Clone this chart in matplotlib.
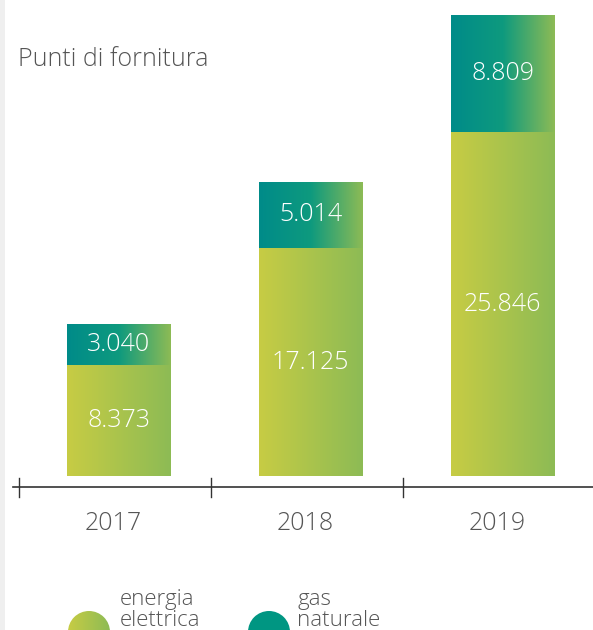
import numpy as np
import matplotlib
matplotlib.use('Agg')
import matplotlib.pyplot as plt
from matplotlib.colors import LinearSegmentedColormap
from matplotlib.patches import FancyBboxPatch, Circle

# dati
anni = ['2017', '2018', '2019']
energia_elettrica = [8373, 17125, 25846]
gas_naturale = [3040, 5014, 8809]
etichette_energia = ['8.373', '17.125', '25.846']
etichette_gas = ['3.040', '5.014', '8.809']

plt.rcParams['font.family'] = ['Open Sans', 'DejaVu Sans']
peso = 'light'

cmap_energia = LinearSegmentedColormap.from_list('energia', ['#c7cc44', '#8dbb55'])
cmap_gas = LinearSegmentedColormap.from_list(
    'gas', [(0, '#008b89'), (0.5, '#0e9a7e'), (1, '#8dbb55')])
gradiente = np.linspace(0, 1, 256).reshape(1, -1)

W, H = 593, 630
fig = plt.figure(figsize=(W / 100, H / 100), dpi=100)

# sfondo della scheda (coordinate in pixel)
bg = fig.add_axes([0, 0, 1, 1])
bg.set_xlim(0, W)
bg.set_ylim(H, 0)
bg.axis('off')
bg.add_patch(FancyBboxPatch((0, 0), W, H, boxstyle='square,pad=0',
                            facecolor='#efefef', edgecolor='none'))
bg.add_patch(FancyBboxPatch((5, -30), W + 60, H + 68,
                            boxstyle='round,pad=0,rounding_size=30',
                            facecolor='white', edgecolor='none'))

grigio = '#555555'
bg.text(18, 59, 'Punti di fornitura', fontsize=18, color=grigio,
        va='center', ha='left', fontweight=peso)

# legenda
def cerchio(cx, cy, r, cmap=None, colore=None):
    c = Circle((cx, cy), r, facecolor=colore if colore else 'none', edgecolor='none')
    bg.add_patch(c)
    if cmap is not None:
        im = bg.imshow(gradiente, cmap=cmap, aspect='auto',
                       extent=(cx - r, cx + r, cy + r, cy - r), zorder=2)
        im.set_clip_path(c)

cerchio(89, 632, 21, cmap=cmap_energia)
cerchio(269, 632, 21, colore='#009682')
for tx, ty, s in [(120, 599, 'energia'), (120, 621, 'elettrica'),
                  (297, 599, 'gas'), (297, 621, 'naturale')]:
    bg.text(tx, ty, s, fontsize=16, color=grigio, va='center', fontweight=peso)

# grafico
k = 0.0133          # pixel per unità
base_px = H - 476   # pixel dal basso per y=0
passo = 192.0       # pixel tra le barre
x0 = 118.5          # pixel centro prima barra

ax = fig.add_axes([0, 0, 1, 1], facecolor='none')
ax.axis('off')

x = np.arange(len(anni))
larghezza = 0.54

barre_e = ax.bar(x, energia_elettrica, width=larghezza, color='none', edgecolor='none')
barre_g = ax.bar(x, gas_naturale, bottom=energia_elettrica, width=larghezza,
                 color='none', edgecolor='none')

for barre, cmap in [(barre_e, cmap_energia), (barre_g, cmap_gas)]:
    for b in barre:
        bx, by, bw, bh = b.get_x(), b.get_y(), b.get_width(), b.get_height()
        im = ax.imshow(gradiente, cmap=cmap, aspect='auto',
                       extent=(bx, bx + bw, by, by + bh), zorder=2)
        im.set_clip_path(b)

for i in range(len(anni)):
    ax.text(x[i], energia_elettrica[i] / 2, etichette_energia[i], color='white',
            fontsize=18, ha='center', va='center', zorder=3, fontweight=peso)
    ax.text(x[i], energia_elettrica[i] + gas_naturale[i] / 2, etichette_gas[i],
            color='white', fontsize=18, ha='center', va='center', zorder=3,
            fontweight=peso)
    ax.text(x[i] - 0.03, -47 / k, anni[i], color=grigio, fontsize=18,
            ha='center', va='center', fontweight=peso)

# asse orizzontale con tacche
y_asse = -10.5 / k
ax.plot([x[0] - 0.55, (W - x0) / passo], [y_asse, y_asse], color='#333333', lw=1.2)
for t in x - 0.52:
    ax.plot([t, t], [-2 / k, -21 / k], color='#333333', lw=1.0)
ax.set_xlim(-x0 / passo, (W - x0) / passo)
ax.set_ylim(-base_px / k, (H - base_px) / k)

fig.savefig('out.png', dpi=100)
